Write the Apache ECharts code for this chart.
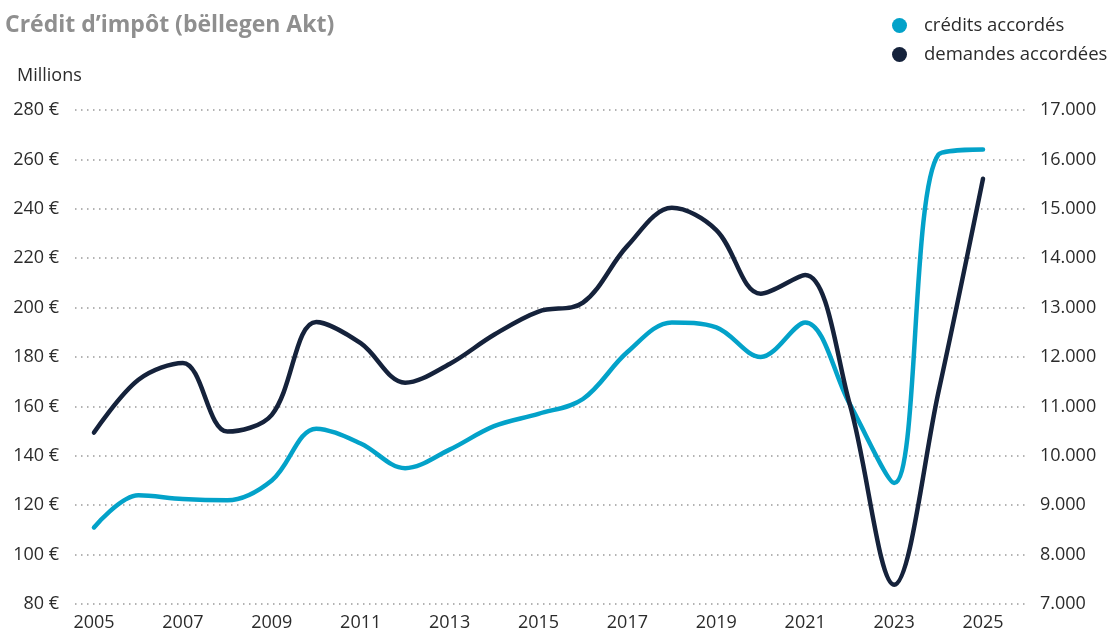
<!DOCTYPE html>
<html>
<head>
<meta charset="utf-8">
<script src="https://cdn.jsdelivr.net/npm/echarts@6/dist/echarts.min.js"></script>
<style>
  html, body { margin: 0; padding: 0; background: #fff; }
  #chart { width: 1112px; height: 632px; }
</style>
</head>
<body>
<div id="chart"></div>
<script>
// Tax credit: amounts granted (millions €, left axis) and number of requests granted (right axis)
const years = [2005, 2006, 2007, 2008, 2009, 2010, 2011, 2012, 2013, 2014, 2015,
               2016, 2017, 2018, 2019, 2020, 2021, 2022, 2023, 2024, 2025];
const creditsAccordes = [111, 124, 122.5, 122, 130, 151, 145, 135, 142.5, 152, 157,
                         163, 182, 194, 192, 180, 194, 161, 129, 262, 264];
const demandesAccordees = [10470, 11540, 11880, 10490, 10830, 12710, 12280, 11480, 11860, 12450, 12920,
                           13100, 14250, 15020, 14570, 13280, 13660, 11050, 7390, 11300, 15610];
const yearLabels = [2005, 2007, 2009, 2011, 2013, 2015, 2017, 2019, 2021, 2023, 2025];
const leftTicks = { min: 80, max: 280, step: 20 };
const rightTicks = { min: 7000, max: 17000, step: 1000 };

const FONT = '"Open Sans", "Noto Sans", sans-serif';
const BLUE = '#03a2c9';
const NAVY = '#15223b';
const TEXT = '#2b2b2b';

function thousands(v) {
  return String(v).replace(/\B(?=(\d{3})+(?!\d))/g, '.');
}

const chart = echarts.init(document.getElementById('chart'), null, { renderer: 'canvas' });

chart.setOption({
  animation: false,
  title: {
    text: 'Crédit d’impôt (bëllegen Akt)',
    left: 0,
    top: 9,
    textStyle: { fontFamily: FONT, fontSize: 23, fontWeight: 'bold', color: '#8f8f8f' }
  },
  legend: {
    orient: 'vertical',
    left: 887,
    top: 11,
    icon: 'circle',
    itemWidth: 15,
    itemHeight: 15,
    itemGap: 10,
    textStyle: { fontFamily: FONT, fontSize: 18.5, color: TEXT, padding: [0, 0, 0, 12] },
    data: ['crédits accordés', 'demandes accordées']
  },
  graphic: [{
    type: 'text',
    left: 17,
    top: 67,
    style: { text: 'Millions', font: '18px ' + FONT, fill: TEXT }
  }],
  grid: { left: 75, right: 86, top: 110, bottom: 28, containLabel: false },
  xAxis: {
    type: 'value',
    min: 2004.573,
    max: 2025.967,
    axisLine: { show: false },
    axisTick: { show: false },
    splitLine: { show: false },
    axisLabel: {
      customValues: yearLabels,
      fontFamily: FONT,
      fontSize: 18,
      color: TEXT,
      margin: 10,
      formatter: v => String(v)
    }
  },
  yAxis: [{
    type: 'value',
    min: leftTicks.min,
    max: leftTicks.max,
    interval: leftTicks.step,
    axisLine: { show: false },
    axisTick: { show: false },
    axisLabel: {
      fontFamily: FONT, fontSize: 18, color: TEXT, margin: 16,
      formatter: v => v + ' €'
    },
    splitLine: { lineStyle: { type: [1.5, 4.5], color: '#9a9a9a', width: 1.5 } }
  }, {
    type: 'value',
    min: rightTicks.min,
    max: rightTicks.max,
    interval: rightTicks.step,
    position: 'right',
    axisLine: { show: false },
    axisTick: { show: false },
    axisLabel: {
      fontFamily: FONT, fontSize: 18, color: TEXT, margin: 14,
      formatter: v => thousands(v)
    },
    splitLine: { show: false }
  }],
  series: [{
    name: 'crédits accordés',
    type: 'line',
    yAxisIndex: 0,
    data: years.map((y, i) => [y, creditsAccordes[i]]),
    smooth: 0.35,
    showSymbol: false,
    symbol: 'circle',
    itemStyle: { color: BLUE },
    lineStyle: { color: BLUE, width: 4.5, cap: 'round' }
  }, {
    name: 'demandes accordées',
    type: 'line',
    yAxisIndex: 1,
    data: years.map((y, i) => [y, demandesAccordees[i]]),
    smooth: 0.35,
    showSymbol: false,
    symbol: 'circle',
    itemStyle: { color: NAVY },
    lineStyle: { color: NAVY, width: 4.5, cap: 'round' }
  }]
});
</script>
</body>
</html>
